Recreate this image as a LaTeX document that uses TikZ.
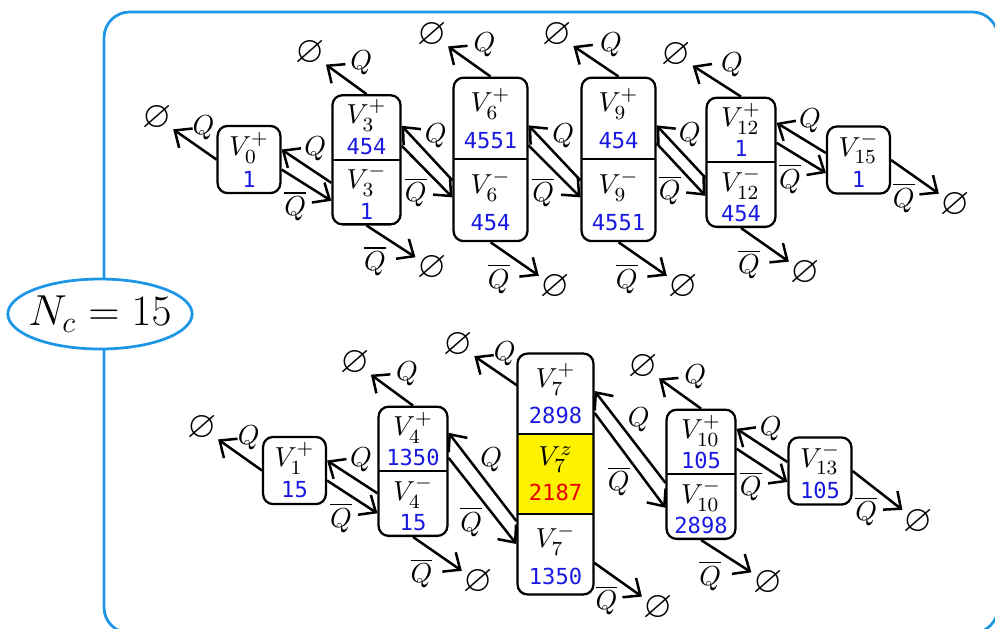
\documentclass[tikz,border=0pt]{standalone}
\usepackage{amsmath}
\usepackage{amssymb}
\usepackage{fontspec}
\newfontfamily\numfont{DejaVu Sans Mono}
\usetikzlibrary{arrows.meta,positioning,fit,shapes.geometric,calc}
\definecolor{framecol}{RGB}{30,150,230}
\definecolor{numblue}{RGB}{25,25,225}
\definecolor{numred}{RGB}{235,0,0}
\newcommand{\cellnum}[1]{{\numfont\fontsize{8.8}{10}\selectfont\textcolor{numblue}{#1}}}
\newcommand{\rednum}[1]{{\numfont\fontsize{8.8}{10}\selectfont\textcolor{numred}{#1}}}
\tikzset{
  cell/.style={align=center, inner sep=0pt, font=\fontsize{10.8}{12}\selectfont},
  single/.style={cell, draw, rounded corners=1.4mm, line width=0.9pt, minimum width=8.8mm, minimum height=9.4mm},
  outline/.style={draw, rounded corners=1.4mm, line width=0.9pt, inner sep=0pt},
  divider/.style={line width=0.9pt},
  void/.style={circle, inner sep=0pt, font=\fontsize{15}{16}\selectfont},
  arr/.style={-{Straight Barb[length=1.9mm, width=3.3mm]}, line width=1pt},
  qlab/.style={midway, above, inner sep=1.5pt, xshift=3.5pt, font=\fontsize{10.5}{12}\selectfont},
  qbarlab/.style={midway, below, inner sep=2pt, xshift=-4.5pt, font=\fontsize{10.5}{12}\selectfont},
  qout/.style={midway, above right, inner sep=1.2pt, font=\fontsize{10.5}{12}\selectfont},
  qbarout/.style={midway, below left, inner sep=1.5pt, font=\fontsize{10.5}{12}\selectfont},
  frame/.style={draw=framecol, line width=1.1pt, rounded corners=3.6mm},
  count/.style={ellipse, draw=framecol, line width=1.1pt, fill=white, inner xsep=-1.2mm, inner ysep=0pt, minimum width=25.8mm, minimum height=9.8mm, font=\fontsize{18.3}{22}\selectfont},
}
\begin{document}
\begin{tikzpicture}[x=0.14mm, y=-0.14mm]
  \useasboundingbox (0,0) rectangle (995,628);
  % Frame
  \draw[frame] (104,12) rectangle (998,633);
  \node[count] (nc) at (100,314) {$N_c = 15$};

  % Top row
  \node[single] (v0) at (249,159.5) {$V_0^+$\\[0.5pt]\cellnum{1}};
  \node[cell, minimum width=9.4mm, minimum height=8.9mm] (v3p) at (366.5,127.5) {$V_3^+$\\[0.5pt]\cellnum{454}};
  \node[cell, minimum width=9.4mm, minimum height=8.9mm, below=0pt of v3p] (v3m) {$V_3^-$\\[0.5pt]\cellnum{1}};
  \node[outline, fit=(v3p)(v3m)] (v3) {};
  \node[cell, minimum width=10.2mm, minimum height=11.3mm] (v6p) at (490.5,118.5) {$V_6^+$\\[2.5pt]\cellnum{4551}};
  \node[cell, minimum width=10.2mm, minimum height=11.3mm, below=0pt of v6p] (v6m) {$V_6^-$\\[2.5pt]\cellnum{454}};
  \node[outline, fit=(v6p)(v6m)] (v6) {};
  \node[cell, minimum width=10.2mm, minimum height=11.3mm] (v9p) at (618.5,118.5) {$V_9^+$\\[2.5pt]\cellnum{454}};
  \node[cell, minimum width=10.2mm, minimum height=11.3mm, below=0pt of v9p] (v9m) {$V_9^-$\\[2.5pt]\cellnum{4551}};
  \node[outline, fit=(v9p)(v9m)] (v9) {};
  \node[cell, minimum width=9.5mm, minimum height=8.9mm] (v12p) at (741,130) {$V_{12}^+$\\[0pt]\cellnum{1}};
  \node[cell, minimum width=9.5mm, minimum height=8.9mm, below=0pt of v12p] (v12m) {$V_{12}^-$\\[0pt]\cellnum{454}};
  \node[outline, fit=(v12p)(v12m)] (v12) {};
  \node[single] (v15) at (858.5,160) {$V_{15}^-$\\[0.5pt]\cellnum{1}};
  \draw[divider] (v3p.south west) -- (v3p.south east);
  \draw[divider] (v6p.south west) -- (v6p.south east);
  \draw[divider] (v9p.south west) -- (v9p.south east);
  \draw[divider] (v12p.south west) -- (v12p.south east);

  % Bottom row
  \node[single] (v1) at (294.5,470.5) {$V_1^+$\\[0.5pt]\cellnum{15}};
  \node[cell, minimum width=9.5mm, minimum height=8.9mm] (v4p) at (413,439) {$V_4^+$\\[0pt]\cellnum{1350}};
  \node[cell, minimum width=9.5mm, minimum height=8.9mm, below=0pt of v4p] (v4m) {$V_4^-$\\[0pt]\cellnum{15}};
  \node[outline, fit=(v4p)(v4m)] (v4) {};
  \node[cell, minimum width=10.5mm, minimum height=11.1mm] (v7p) at (555.5,393.7) {$V_7^+$\\[2.5pt]\cellnum{2898}};
  \node[cell, minimum width=10.5mm, minimum height=11.1mm, fill=yellow, below=0pt of v7p] (v7z) {$V_7^z$\\[2pt]\rednum{2187}};
  \node[cell, minimum width=10.5mm, minimum height=11.1mm, below=0pt of v7z] (v7m) {$V_7^-$\\[2.5pt]\cellnum{1350}};
  \node[outline, fit=(v7p)(v7m)] (v7) {};
  \node[cell, minimum width=9.5mm, minimum height=8.9mm] (v10p) at (701,442) {$V_{10}^+$\\[0pt]\cellnum{105}};
  \node[cell, minimum width=9.5mm, minimum height=8.9mm, below=0pt of v10p] (v10m) {$V_{10}^-$\\[0pt]\cellnum{2898}};
  \node[outline, fit=(v10p)(v10m)] (v10) {};
  \node[single] (v13) at (820,471) {$V_{13}^-$\\[0.5pt]\cellnum{105}};
  \draw[divider] (v4p.south west) -- (v4p.south east);
  \draw[divider] (v7p.south west) -- (v7p.south east);
  \draw[divider] (v7z.south west) -- (v7z.south east);
  \draw[divider] (v10p.south west) -- (v10p.south east);

  % Empty states
  \node[void] (e0) at (157,118) {$\varnothing$};
  \node[void] (e3p) at (310,53) {$\varnothing$};
  \node[void] (e3m) at (432,268) {$\varnothing$};
  \node[void] (e6p) at (432,35) {$\varnothing$};
  \node[void] (e6m) at (555,287) {$\varnothing$};
  \node[void] (e9p) at (557,35) {$\varnothing$};
  \node[void] (e9m) at (683,287) {$\varnothing$};
  \node[void] (e12p) at (676,55) {$\varnothing$};
  \node[void] (e12m) at (805,273) {$\varnothing$};
  \node[void] (e15) at (955,205) {$\varnothing$};
  \node[void] (e1) at (202,428) {$\varnothing$};
  \node[void] (e4p) at (355,363) {$\varnothing$};
  \node[void] (e4m) at (478,582) {$\varnothing$};
  \node[void] (e7p) at (458,345) {$\varnothing$};
  \node[void] (e7m) at (658,608) {$\varnothing$};
  \node[void] (e10p) at (643,367) {$\varnothing$};
  \node[void] (e10m) at (768,583) {$\varnothing$};
  \node[void] (e13) at (918,522) {$\varnothing$};

  % Arrows to the empty states
  \draw[arr] (v0.west) -- node[qlab] {$Q$} (e0);
  \draw[arr] (v3.north) -- node[qout] {$Q$} (e3p);
  \draw[arr] (v3.south) -- node[qbarout] {$\overline{Q}$} (e3m);
  \draw[arr] (v6.north) -- node[qout] {$Q$} (e6p);
  \draw[arr] (v6.south) -- node[qbarout] {$\overline{Q}$} (e6m);
  \draw[arr] (v9.north) -- node[qout] {$Q$} (e9p);
  \draw[arr] (v9.south) -- node[qbarout] {$\overline{Q}$} (e9m);
  \draw[arr] (v12.north) -- node[qout] {$Q$} (e12p);
  \draw[arr] (v12.south) -- node[qbarout] {$\overline{Q}$} (e12m);
  \draw[arr] (v15.east) -- node[qbarlab] {$\overline{Q}$} (e15);
  \draw[arr] (v1.west) -- node[qlab] {$Q$} (e1);
  \draw[arr] (v4.north) -- node[qout] {$Q$} (e4p);
  \draw[arr] (v4.south) -- node[qbarout] {$\overline{Q}$} (e4m);
  \draw[arr] ($(v7p.west)+(0,-8)$) -- node[qlab] {$Q$} (e7p);
  \draw[arr] ($(v7m.east)+(0,8)$) -- node[qbarlab] {$\overline{Q}$} (e7m);
  \draw[arr] (v10.north) -- node[qout] {$Q$} (e10p);
  \draw[arr] (v10.south) -- node[qbarout] {$\overline{Q}$} (e10m);
  \draw[arr] (v13.east) -- node[qbarlab] {$\overline{Q}$} (e13);

  % Arrows between boxes, top row
  \draw[arr] ($(v3.west)+(0,23)$) -- node[qlab] {$Q$} ($(v0.east)+(0,-10)$);
  \draw[arr] ($(v0.east)+(0,10)$) -- node[qbarlab] {$\overline{Q}$} ($(v3.west)+(0,41)$);
  \draw[arr] ($(v6.west)+(0,21)$) -- node[qlab] {$Q$} ($(v3.east)+(0,-34)$);
  \draw[arr] ($(v3.east)+(0,-14)$) -- node[qbarlab] {$\overline{Q}$} ($(v6.west)+(0,38)$);
  \draw[arr] ($(v9.west)+(0,21)$) -- node[qlab] {$Q$} ($(v6.east)+(0,-34)$);
  \draw[arr] ($(v6.east)+(0,-14)$) -- node[qbarlab] {$\overline{Q}$} ($(v9.west)+(0,38)$);
  \draw[arr] ($(v12.west)+(0,15.5)$) -- node[qlab] {$Q$} ($(v9.east)+(0,-34)$);
  \draw[arr] ($(v9.east)+(0,-16)$) -- node[qbarlab] {$\overline{Q}$} ($(v12.west)+(0,33.5)$);
  \draw[arr] ($(v15.west)+(0,-7)$) -- node[qlab] {$Q$} ($(v12.east)+(0,-39.5)$);
  \draw[arr] ($(v12.east)+(0,-19.5)$) -- node[qbarlab] {$\overline{Q}$} ($(v15.west)+(0,13)$);

  % Arrows between boxes, bottom row
  \draw[arr] ($(v4.west)+(0,22)$) -- node[qlab] {$Q$} ($(v1.east)+(0,-10)$);
  \draw[arr] ($(v1.east)+(0,10)$) -- node[qbarlab] {$\overline{Q}$} ($(v4.west)+(0,42)$);
  \draw[arr] ($(v7.west)+(0,47)$) -- node[qlab] {$Q$} ($(v4.east)+(0,-38.5)$);
  \draw[arr] ($(v4.east)+(0,-13.5)$) -- node[qbarlab] {$\overline{Q}$} ($(v7.west)+(0,70)$);
  \draw[arr] ($(v10.west)+(0,8.5)$) -- node[qlab] {$Q$} ($(v7.east)+(0,-83)$);
  \draw[arr] ($(v7.east)+(0,-61)$) -- node[qbarlab] {$\overline{Q}$} ($(v10.west)+(0,33.5)$);
  \draw[arr] ($(v13.west)+(0,-9)$) -- node[qlab] {$Q$} ($(v10.east)+(0,-45.5)$);
  \draw[arr] ($(v10.east)+(0,-25.5)$) -- node[qbarlab] {$\overline{Q}$} ($(v13.west)+(0,11)$);
\end{tikzpicture}
\end{document}
